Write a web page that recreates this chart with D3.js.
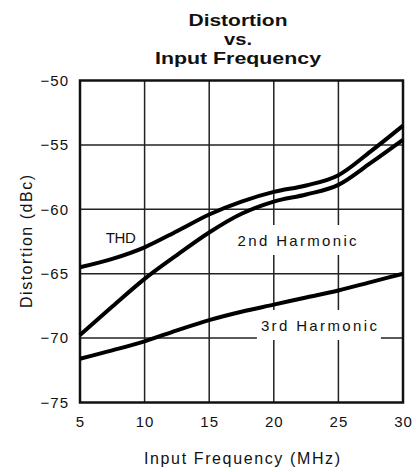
<!DOCTYPE html>
<html>
<head>
<meta charset="utf-8">
<script src="https://cdn.jsdelivr.net/npm/d3@7"></script>
<style>
  html, body { margin: 0; padding: 0; background: #fff; }
  svg { display: block; }
  text { font-family: "Liberation Sans", Arial, sans-serif; fill: #111; }
</style>
</head>
<body>
<svg id="chart" width="416" height="472"></svg>
<script>
// ---- data ----
const freq = [5, 7.5, 10, 12.5, 15, 17.5, 20, 22.5, 25, 27.5, 30];
const thd  = [-64.5, -63.85, -62.95, -61.7, -60.4, -59.4, -58.65, -58.15, -57.35, -55.5, -53.5];
const h2   = [-69.75, -67.55, -65.4, -63.55, -61.8, -60.35, -59.4, -58.85, -58.1, -56.4, -54.6];
const h3   = [-71.6, -70.95, -70.25, -69.4, -68.6, -67.95, -67.4, -66.85, -66.3, -65.65, -65.0];
const xTicks = [5, 10, 15, 20, 25, 30];
const xTickLabels = ["5", "10", "15", "20", "25", "30"];
const yTicks = [-50, -55, -60, -65, -70, -75];
const yTickLabels = ["\u221250", "\u221255", "\u221260", "\u221265", "\u221270", "\u221275"];
const titleLines = ["Distortion", "vs.", "Input Frequency"];
const xTitle = "Input Frequency (MHz)";
const yTitle = "Distortion (dBc)";

// ---- layout ----
const L = 80, R = 403, T = 80.5, B = 402.5;
const svg = d3.select("#chart");
const x = d3.scaleLinear().domain([5, 30]).range([L, R]);
const y = d3.scaleLinear().domain([-75, -50]).range([B, T]);

// grid
const g = svg.append("g");
g.selectAll("line.vx").data(xTicks.slice(1, -1)).enter().append("line")
  .attr("x1", d => x(d)).attr("x2", d => x(d)).attr("y1", T).attr("y2", B)
  .attr("stroke", "#222").attr("stroke-width", 1.5);
g.selectAll("line.hy").data(yTicks.slice(1, -1)).enter().append("line")
  .attr("y1", d => y(d)).attr("y2", d => y(d)).attr("x1", L).attr("x2", R)
  .attr("stroke", "#222").attr("stroke-width", 1.5);

// white boxes behind curve labels
const labels = [
  {t: "THD", f: 7.0, v: -62.6, w: 30},
  {t: "2nd Harmonic", f: 17.2, v: -62.85, w: 119},
  {t: "3rd Harmonic", f: 19.0, v: -69.45, w: 116}
];
svg.selectAll("rect.lb").data(labels).enter().append("rect")
  .attr("x", d => x(d.f) - 4).attr("y", d => y(d.v) - 21)
  .attr("width", d => d.w + 8).attr("height", 30)
  .attr("fill", "#fff");

// frame
svg.append("rect").attr("x", L).attr("y", T).attr("width", R - L).attr("height", B - T)
  .attr("fill", "none").attr("stroke", "#111").attr("stroke-width", 2.5);

// curves
const line = d3.line().x((d, i) => x(freq[i])).y(d => y(d)).curve(d3.curveMonotoneX);
[thd, h2, h3].forEach(s => {
  svg.append("path").attr("d", line(s)).attr("fill", "none")
    .attr("stroke", "#000").attr("stroke-width", 4);
});

// curve labels
svg.selectAll("text.lb").data(labels).enter().append("text")
  .attr("x", d => x(d.f)).attr("y", d => y(d.v))
  .attr("font-size", 15)
  .attr("textLength", d => d.w).attr("lengthAdjust", "spacing")
  .text(d => d.t);

// axes
const yAxis = d3.axisLeft(y).tickValues(yTicks).tickSize(0).tickPadding(11)
  .tickFormat((d, i) => yTickLabels[i]);
const ya = svg.append("g").attr("transform", `translate(${L},0)`).call(yAxis);
ya.select(".domain").remove();
ya.selectAll("text").attr("font-size", 15).attr("font-family", "Liberation Sans, Arial, sans-serif")
  .attr("fill", "#111").style("letter-spacing", "1px");

const xAxis = d3.axisBottom(x).tickValues(xTicks).tickSize(0).tickPadding(14)
  .tickFormat((d, i) => xTickLabels[i]);
const xa = svg.append("g").attr("transform", `translate(0,${B})`).call(xAxis);
xa.select(".domain").remove();
xa.selectAll("text").attr("font-size", 15).attr("font-family", "Liberation Sans, Arial, sans-serif")
  .attr("fill", "#111").style("letter-spacing", "1px");

// axis titles
svg.append("text").attr("x", 242).attr("y", 464).attr("text-anchor", "middle")
  .attr("font-size", 16).attr("textLength", 196).attr("lengthAdjust", "spacing")
  .text(xTitle);
svg.append("text").attr("transform", "translate(32,241.5) rotate(-90)")
  .attr("text-anchor", "middle").attr("font-size", 16)
  .attr("textLength", 133).attr("lengthAdjust", "spacing")
  .text(yTitle);

// title
const titleWidths = [99, 28, 166];
const titleBase = [25.5, 44.5, 63.5];
svg.selectAll("text.title").data(titleLines).enter().append("text")
  .attr("x", 238).attr("y", (d, i) => titleBase[i])
  .attr("text-anchor", "middle").attr("font-size", 17).attr("font-weight", "bold")
  .attr("textLength", (d, i) => titleWidths[i]).attr("lengthAdjust", "spacingAndGlyphs")
  .text(d => d);
</script>
</body>
</html>
